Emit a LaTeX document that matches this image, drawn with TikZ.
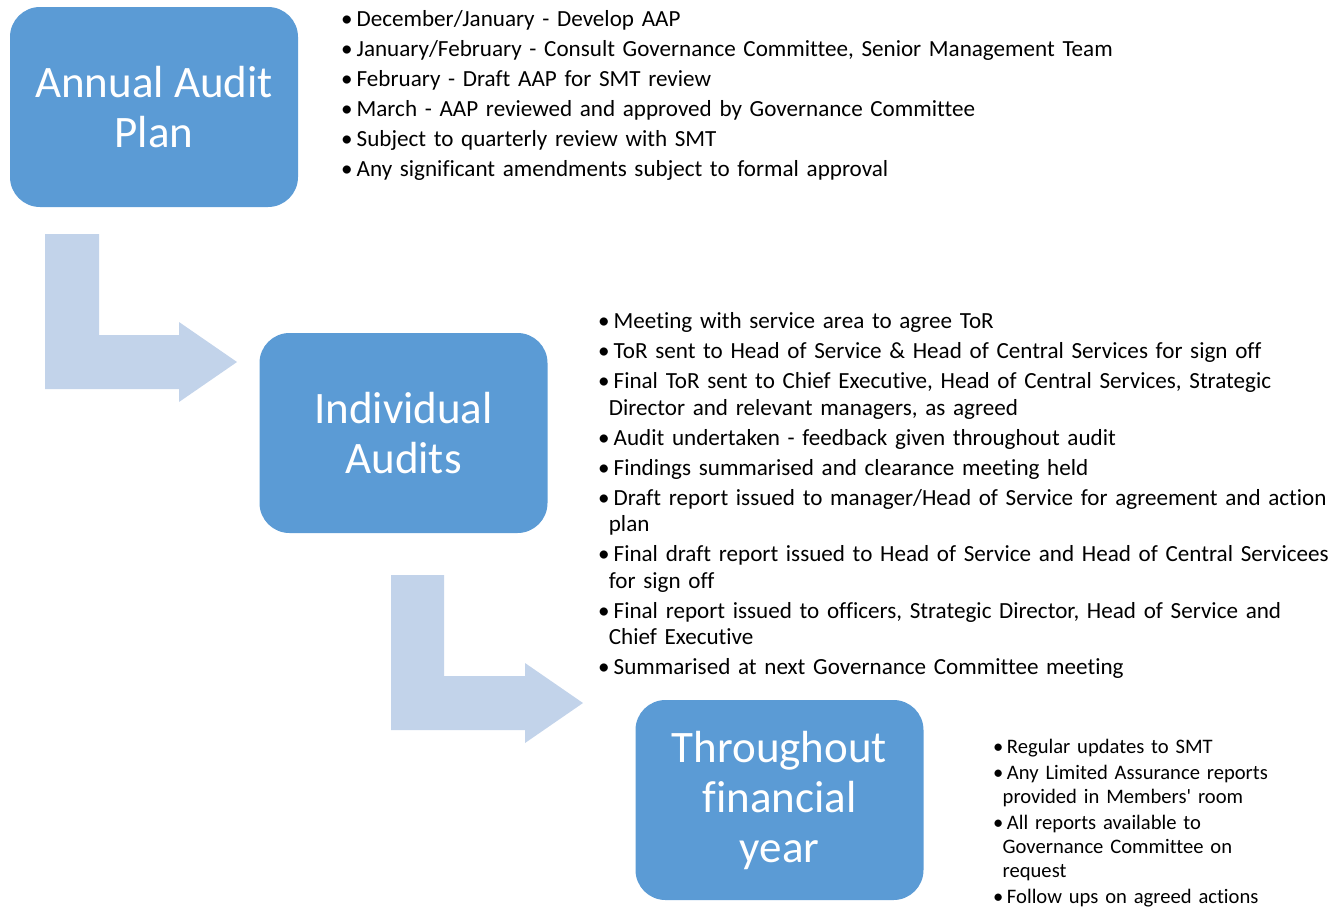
\documentclass[tikz,border=0pt]{standalone}
\usepackage{fontspec}
\setmainfont{Carlito}[Ligatures={TeXOff,NoCommon}]
\definecolor{boxblue}{RGB}{91,155,213}
\definecolor{arrowblue}{RGB}{194,211,234}
\newcommand{\itm}{\makebox[0.67em][l]{\textbullet}}
\newcommand{\cont}{\hspace*{0.46em}}
\begin{document}
\begin{tikzpicture}[x=1pt,y=-1pt,
 stage/.style={fill=boxblue,text=white,rounded corners=30pt,minimum width=288pt,minimum height=200pt,align=center,font=\fontsize{45}{50}\selectfont},
 bentarrow/.style={fill=arrowblue},
 lst/.style={anchor=base west,inner sep=0pt,align=left,text width=1000pt}]
\useasboundingbox (0,0) rectangle (1344,906);
% bent arrows
\fill[bentarrow] (45,234) -- (99,234) -- (99,335) -- (179,335) -- (179,322) -- (237,362) -- (179,402) -- (179,389) -- (45,389) -- cycle;
\fill[bentarrow] (391,575) -- (444,575) -- (444,676) -- (525,676) -- (525,663) -- (583,703) -- (525,743) -- (525,730) -- (391,730) -- cycle;
% stages
\node[stage] (plan) at (154,107) {Annual Audit\\Plan};
\node[stage] (audits) at (403.5,433) {Individual\\Audits};
\node[stage] (year) at (779.5,800) {Throughout\\financial\\year};
% bullet lists
\node[lst,font=\fontsize{23.1}{30}\selectfont] (planlist) at (341,26.5) {%
\itm December/January - Develop AAP\\
\itm January/February - Consult Governance Committee, Senior Management Team\\
\itm February - Draft AAP for SMT review\\
\itm March - AAP reviewed and approved by Governance Committee\\
\itm Subject to quarterly review with SMT\\
\itm Any significant amendments subject to formal approval};
\node[lst,font=\fontsize{23.1}{26.5}\selectfont] (auditlist) at (598,328.5) {%
\itm Meeting with service area to agree ToR\\[3.5pt]
\itm ToR sent to Head of Service \& Head of Central Services for sign off\\[3.5pt]
\itm Final ToR sent to Chief Executive, Head of Central Services, Strategic\\
\cont Director and relevant managers, as agreed\\[3.5pt]
\itm Audit undertaken - feedback given throughout audit\\[3.5pt]
\itm Findings summarised and clearance meeting held\\[3.5pt]
\itm Draft report issued to manager/Head of Service for agreement and action\\
\cont plan\\[3.5pt]
\itm Final draft report issued to Head of Service and Head of Central Servicees\\
\cont for sign off\\[3.5pt]
\itm Final report issued to officers, Strategic Director, Head of Service and\\
\cont Chief Executive\\[3.5pt]
\itm Summarised at next Governance Committee meeting};
\node[lst,font=\fontsize{20.6}{24}\selectfont] (yearlist) at (993,753.5) {%
\itm Regular updates to SMT\\[2pt]
\itm Any Limited Assurance reports\\
\cont provided in Members' room\\[2pt]
\itm All reports available to\\
\cont Governance Committee on\\
\cont request\\[2pt]
\itm Follow ups on agreed actions};
\end{tikzpicture}
\end{document}
